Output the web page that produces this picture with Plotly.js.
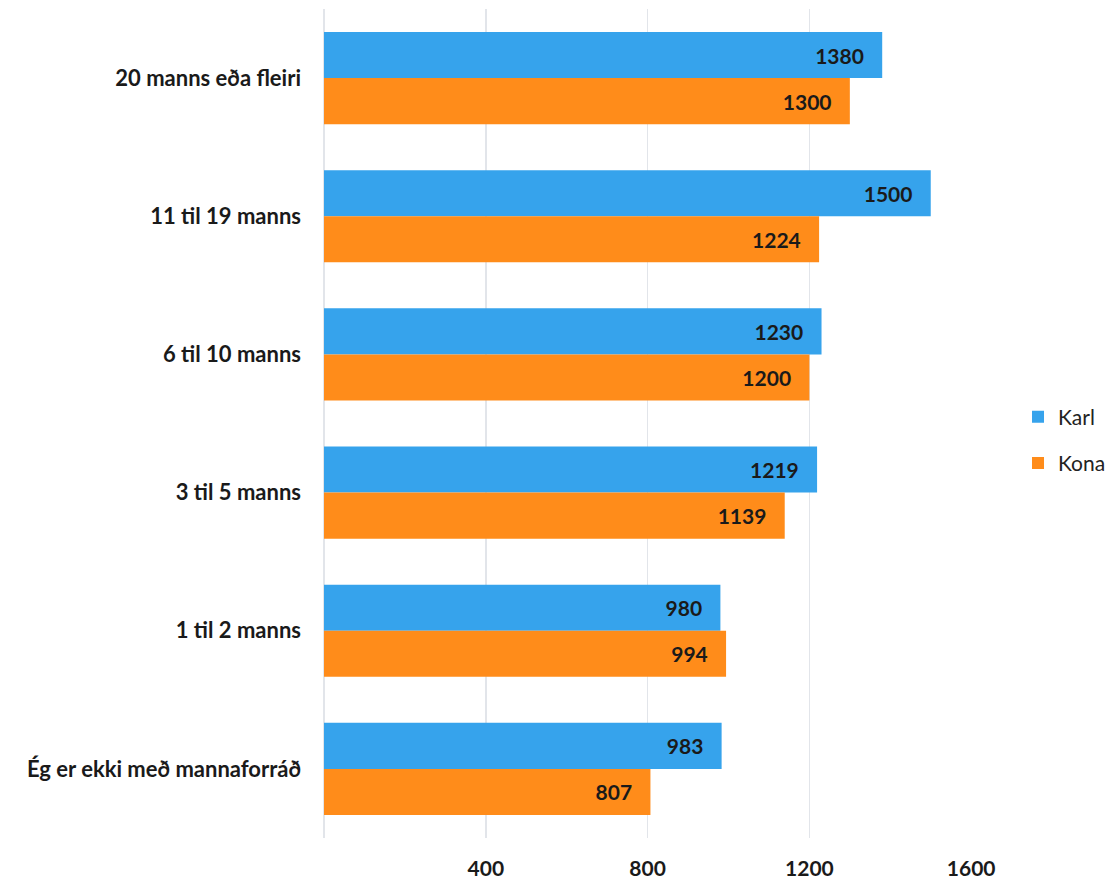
<!DOCTYPE html>
<html>
<head>
<meta charset="utf-8">
<script src="https://cdn.plot.ly/plotly-3.0.1.min.js"></script>
<style>html,body{margin:0;padding:0;background:#fff;}#chart{width:1110px;height:879px;}</style>
</head>
<body>
<div id="chart"></div>
<script>
const categories = ["20 manns eða fleiri", "11 til 19 manns", "6 til 10 manns", "3 til 5 manns", "1 til 2 manns", "Ég er ekki með mannaforráð"];
const karl = [1380, 1500, 1230, 1219, 980, 983];
const kona = [1300, 1224, 1200, 1139, 994, 807];
const tickValues = [0, 400, 800, 1200, 1600];
const tickLabels = ["", "400", "800", "1200", "1600"];

const FONT = "Lato, 'Open Sans', sans-serif";
const labelFont = {family: FONT, size: 21, color: "#1a1a1a", weight: 700};

function series(name, values, color) {
  return {
    type: "bar", orientation: "h", name: name,
    x: values, y: categories,
    marker: {color: color},
    text: values.map(v => String(v)),
    texttemplate: "<b>%{text}</b>\u00a0\u00a0\u00a0",
    textposition: "inside", insidetextanchor: "end",
    textfont: labelFont, insidetextfont: labelFont,
    constraintext: "none", cliponaxis: false,
    legendgroup: name, hoverinfo: "skip"
  };
}

const data = [series("Karl", karl, "#36a3ec"), series("Kona", kona, "#ff8c1a")];

const layout = {
  width: 1110, height: 879,
  margin: {l: 324, r: 138, t: 9, b: 41, autoexpand: false},
  paper_bgcolor: "#fff", plot_bgcolor: "#fff",
  font: {family: FONT, color: "#1a1a1a"},
  barmode: "group", bargap: 0.333, bargroupgap: 0,
  showlegend: true,
  legend: {x: 1.071, xanchor: "left", y: 0.48, yanchor: "middle",
           traceorder: "grouped", tracegroupgap: 16,
           font: {family: FONT, size: 21, color: "#222"}, bgcolor: "rgba(0,0,0,0)"},
  xaxis: {range: [0, 1602], tickvals: tickValues, ticktext: tickLabels,
          showgrid: true, gridcolor: "#e2e5ea", gridwidth: 1.5,
          zeroline: true, zerolinecolor: "#e2e5ea", zerolinewidth: 1.5,
          showline: false, ticks: "", ticklabelstandoff: 16,
          tickfont: {family: FONT, size: 21, color: "#1a1a1a", weight: 700}},
  yaxis: {type: "category", autorange: "reversed", showgrid: false, zeroline: false,
          showline: false, ticks: "", ticklabelstandoff: 22,
          tickfont: {family: FONT, size: 22, color: "#1a1a1a", weight: 700}}
};

Plotly.newPlot("chart", data, layout, {staticPlot: true, displayModeBar: false});
</script>
</body>
</html>
